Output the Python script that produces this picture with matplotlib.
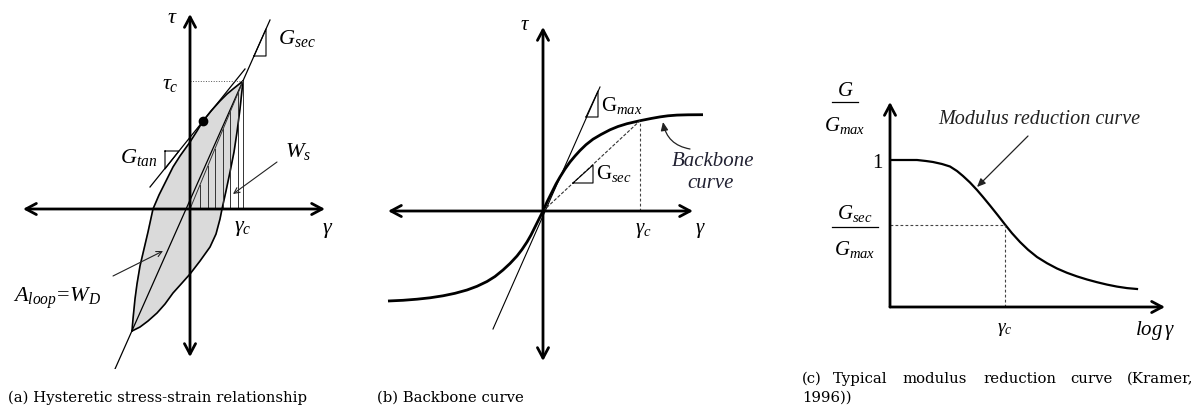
import numpy as np
import matplotlib.pyplot as plt
import matplotlib as mpl

mpl.rcParams['mathtext.fontset'] = 'custom'
mpl.rcParams['mathtext.rm'] = 'Liberation Serif'
mpl.rcParams['mathtext.it'] = 'Liberation Serif:italic'
mpl.rcParams['mathtext.bf'] = 'Liberation Serif:bold'
mpl.rcParams['font.family'] = 'Liberation Serif'

# ---- (a) hysteresis loop, local units (origin at axis crossing, y up)
loop_upper_x = [-58, -57, -55, -53, -50, -46, -42, -37, -31, -23, -17, -10, -5, 0,
                7, 13, 21, 30, 37, 43, 48, 53]
loop_upper_y = [-122, -110, -90, -75, -57, -40, -23, 0, 14, 30, 42, 53, 60, 67,
                78, 88, 98, 108, 115, 120, 124, 128]
loop_lower_x = [-58, -50, -42, -33, -25, -17, -8, 0, 10, 20, 26, 30, 32, 36, 40,
                44, 47, 50, 53]
loop_lower_y = [-122, -118, -112, -104, -95, -84, -74, -65, -52, -38, -25, -10, 0,
                18, 37, 57, 77, 100, 128]
gamma_c_a, tau_c_a = 53, 128
sec_line_x = [-75, 80]            # long secant through both loop tips
sec_line_y = [-160, 189]
tan_line_x = [-40, 55]            # tangent at the marked point
tan_line_y = [22, 140]
tan_point = (13, 88)
hatch_x = [10, 18, 25, 33, 40, 48]
gtan_tri_x = [-25, -25, -11, -25]
gtan_tri_y = [58, 40, 58, 58]
gsec_tri_x = [64, 76, 76, 64]
gsec_tri_y = [153, 153, 180, 153]

# ---- (b) backbone curve
backbone_x = [-155, -140, -126, -113, -100, -88, -76, -66, -56, -48, -40, -33, -26,
              -21, -16, -12, -8, -4, 0, 4, 9, 13, 17, 22, 27, 32, 37, 43, 50, 58,
              67, 75, 84, 97, 108, 117, 125, 134, 145, 160]
backbone_y = [-90, -89.3, -88.2, -86.8, -84.8, -82.3, -79, -75.3, -70.5, -65.5,
              -59, -52.5, -45, -38.5, -31, -24, -16, -8, 0, 9, 19, 27, 34, 42, 49,
              55, 60.5, 66.3, 71.8, 76.5, 81.2, 84.5, 87.3, 90.3, 92.5, 94.1, 95.2,
              95.9, 96.2, 96.3]
gamma_c_b, tau_c_b = 97, 90.3
gmax_line_x = [-50, 57]
gmax_line_y = [-118, 124]
gmax_tri_x = [43, 55, 55, 43]
gmax_tri_y = [94, 94, 120, 94]
gsecb_tri_x = [30, 50, 50, 30]
gsecb_tri_y = [28, 28, 46, 28]

# ---- (c) modulus reduction curve
mod_x = [2, 15, 27, 36, 43, 52, 60, 67, 73, 80, 87, 93, 100, 108, 115, 122, 130,
         138, 147, 157, 167, 177, 187, 197, 207, 217, 227, 237, 247]
mod_y = [147, 147, 147, 146, 145, 143, 140.5, 136, 131, 124.5, 117, 110, 101.5,
         91.5, 82.5, 73.8, 65, 57.3, 50, 43.8, 38.5, 34.2, 30.6, 27.5, 24.8, 22.4,
         20.4, 18.9, 18]
gamma_c_c, ratio_c = 115, 82.5

captions = ["(a) Hysteretic stress-strain relationship", "(b) Backbone curve"]
caption_c_words = ["(c)", "Typical", "modulus", "reduction", "curve", "(Kramer,"]
caption_c_x = [802, 833, 902, 983, 1070, 1127]

W, H = 1202, 410
fig = plt.figure(figsize=(W / 100, H / 100), dpi=100)


def make_panel(x0, x1, y0, y1, ox, oy):
    # one unit = one pixel, origin at (ox, oy) in figure pixels
    ax = fig.add_axes([x0 / W, 1 - y1 / H, (x1 - x0) / W, (y1 - y0) / H])
    ax.set_xlim(x0 - ox, x1 - ox)
    ax.set_ylim(oy - y1, oy - y0)
    ax.axis('off')
    return ax


def axis_arrow(ax, p0, p1, style='<->'):
    ax.annotate('', xy=p1, xytext=p0,
                arrowprops=dict(arrowstyle=f'{style},head_length=0.75,head_width=0.4',
                                lw=2, color='k', shrinkA=0, shrinkB=0))


def pointer(ax, p0, p1, style='->', lw=0.8, **kw):
    ax.annotate('', xy=p1, xytext=p0,
                arrowprops=dict(arrowstyle=style, lw=lw, color='#222222',
                                shrinkA=0, shrinkB=0, **kw))


fs = 16

# (a) Hysteretic stress-strain relationship
ax = make_panel(0, 360, 0, 370, 190, 210)
poly_x = loop_upper_x + loop_lower_x[::-1]
poly_y = loop_upper_y + loop_lower_y[::-1]
ax.fill(poly_x, poly_y, color='#dadada', zorder=1)
ax.plot(loop_upper_x, loop_upper_y, color='k', lw=1.2, zorder=3)
ax.plot(loop_lower_x, loop_lower_y, color='k', lw=1.2, zorder=3)
ax.plot(sec_line_x, sec_line_y, color='k', lw=0.9, zorder=3)
ax.plot(tan_line_x, tan_line_y, color='k', lw=0.9, zorder=3)
ax.plot([0, gamma_c_a], [0, tau_c_a], color='#333333', lw=0.7, zorder=3)
ax.plot([gamma_c_a, gamma_c_a], [0, tau_c_a], color='#333333', lw=0.7, zorder=3)
for hx in hatch_x:
    ax.plot([hx, hx], [0, hx * tau_c_a / gamma_c_a], color='#333333', lw=0.7, zorder=3)
ax.plot([0, gamma_c_a], [tau_c_a, tau_c_a], color='#555555', lw=0.7, ls=':', zorder=3)
ax.plot(gtan_tri_x, gtan_tri_y, color='k', lw=0.8)
ax.plot(gsec_tri_x, gsec_tri_y, color='k', lw=0.8)
ax.plot(*tan_point, 'o', color='k', ms=6, zorder=4)
axis_arrow(ax, (-167, 0), (135, 0))
axis_arrow(ax, (0, -148), (0, 195))
ax.text(-18, 192, r'$\tau$', fontsize=fs, ha='center', va='center')
ax.text(-20, 125, r'$\tau_c$', fontsize=fs, ha='center', va='center')
ax.text(88, 172, r'$G_{sec}$', fontsize=fs, ha='left', va='center')
ax.text(-33, 53, r'$G_{tan}$', fontsize=fs, ha='right', va='center')
ax.text(95, 58, r'$W_s$', fontsize=fs, ha='left', va='center')
ax.text(53, -18, r'$\gamma_c$', fontsize=fs, ha='center', va='center')
ax.text(138, -20, r'$\gamma$', fontsize=fs, ha='center', va='center')
ax.text(-177, -88, r'$A_{loop}\!=\!W_D$', fontsize=fs, ha='left', va='center')
pointer(ax, (87, 47), (43, 15))
pointer(ax, (-77, -67), (-27, -42))

# (b) Backbone curve
ax = make_panel(360, 770, 0, 370, 543, 212)
ax.plot(backbone_x, backbone_y, color='k', lw=2, solid_capstyle='butt',
        solid_joinstyle='round')
ax.plot(gmax_line_x, gmax_line_y, color='k', lw=0.8)
ax.plot([0, gamma_c_b], [0, tau_c_b], color='#333333', lw=0.8, ls=(0, (3, 1.5)))
ax.plot([gamma_c_b, gamma_c_b], [0, tau_c_b], color='#444444', lw=0.8, ls=(0, (2.5, 2)))
ax.plot(gmax_tri_x, gmax_tri_y, color='k', lw=0.8)
ax.plot(gsecb_tri_x, gsecb_tri_y, color='k', lw=0.8)
axis_arrow(ax, (-155, 0), (150, 0))
axis_arrow(ax, (0, -150), (0, 184))
ax.text(-18, 187, r'$\tau$', fontsize=15, ha='center', va='center')
ax.text(157, -18, r'$\gamma$', fontsize=15, ha='center', va='center')
ax.text(100, -18, r'$\gamma_c$', fontsize=15, ha='center', va='center')
ax.text(58, 107, r'$\mathrm{G}_{max}$', fontsize=15, ha='left', va='center')
ax.text(53, 39, r'$\mathrm{G}_{sec}$', fontsize=15, ha='left', va='center')
ax.text(129, 50, 'Backbone', fontsize=15, style='italic', ha='left', va='center',
        color='#222233')
ax.text(144, 28, 'curve', fontsize=15, style='italic', ha='left', va='center',
        color='#222233')
pointer(ax, (147, 62), (120, 89), style='-|>,head_length=0.5,head_width=0.22',
        lw=0.9, connectionstyle='arc3,rad=-0.35')

# (c) Modulus reduction curve
ax = make_panel(770, 1202, 0, 370, 890, 308)
ax.plot(mod_x, mod_y, color='k', lw=1.6, solid_joinstyle='round')
ax.plot([0, gamma_c_c], [ratio_c, ratio_c], color='#444444', lw=0.8, ls=(0, (2.5, 2)))
ax.plot([gamma_c_c, gamma_c_c], [0, ratio_c], color='#444444', lw=0.8, ls=(0, (2.5, 2)))
axis_arrow(ax, (0, 0), (275, 0), style='->')
axis_arrow(ax, (0, 0), (0, 205), style='->')
ax.plot([-58, -32], [205, 205], color='k', lw=0.9)
ax.text(-45, 217, r'$G$', fontsize=15, ha='center', va='center')
ax.text(-45, 183, r'$G_{max}$', fontsize=15, ha='center', va='center')
ax.plot([-58, -12], [80, 80], color='k', lw=0.9)
ax.text(-35, 94, r'$G_{sec}$', fontsize=15, ha='center', va='center')
ax.text(-35, 58, r'$G_{max}$', fontsize=15, ha='center', va='center')
ax.text(-13, 145, '1', fontsize=15, ha='center', va='center')
ax.text(48, 188, 'Modulus reduction curve', fontsize=14.5, style='italic',
        ha='left', va='center', color='#222222')
pointer(ax, (138, 171), (87, 120), style='-|>,head_length=0.5,head_width=0.22', lw=0.9)
ax.text(115, -22, r'$\gamma_c$', fontsize=14, ha='center', va='center')
ax.text(265, -22, r'$log\,\gamma$', fontsize=15, ha='center', va='center')

# captions
cap_kw = dict(fontsize=10.7, family='DejaVu Serif', va='center', ha='left')
fig.text(8 / W, 1 - 398 / H, captions[0], **cap_kw)
fig.text(377 / W, 1 - 398 / H, captions[1], **cap_kw)
for word, wx in zip(caption_c_words, caption_c_x):
    fig.text(wx / W, 1 - 379 / H, word, **cap_kw)
fig.text(802 / W, 1 - 398 / H, '1996))', **cap_kw)

fig.savefig('out.png', dpi=100)
